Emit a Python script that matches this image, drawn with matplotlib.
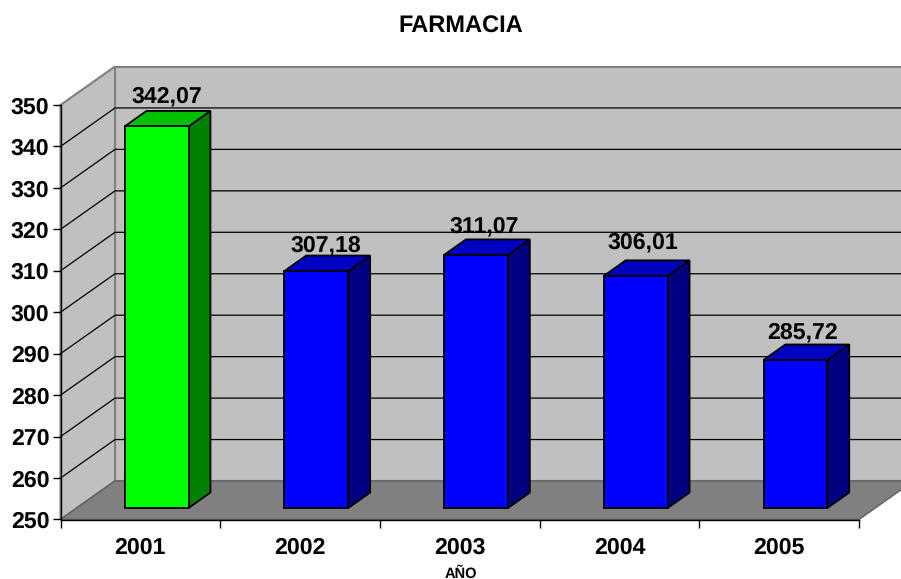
import numpy as np
from matplotlib import pyplot as plt
from matplotlib.patches import Polygon

plt.rcParams['font.family'] = ['Liberation Sans', 'DejaVu Sans']
plt.rcParams['font.weight'] = 'bold'
plt.rcParams['text.hinting'] = 'no_hinting'

#Data
years = ["2001", "2002", "2003", "2004", "2005"]
values = [342.07, 307.18, 311.07, 306.01, 285.72]
labels = ["342,07", "307,18", "311,07", "306,01", "285,72"]
yticks = [250, 260, 270, 280, 290, 300, 310, 320, 330, 340, 350]

#Colors of each bar: front, top, side
green = ['#00FF00', '#00C000', '#008000']
blue = ['#0000FF', '#0000C0', '#000080']
bar_colors = [green, blue, blue, blue, blue]

#Label nudges in pixels, they were dragged by hand in the original
label_dx = [10.5, 9.5, 8, 7.5, 7]
label_dy = [29.5, 25, 28, 33, 27.5]

W, H = 901, 579
x0, x1, y0, y1 = 60.5, 859, 519.5, 105

fig = plt.figure(figsize=(W/100, H/100), dpi=100)
ax = fig.add_axes([x0/W, (H-y0)/H, (x1-x0)/W, (y0-y1)/H])
ax.patch.set_alpha(0)
ax.set_xlim(0, 5)
ax.set_ylim(250, 350)

#Depth of the fake 3D box, in data units
depth_x = 54.5/(x1-x0)*5
depth_y = 38.5/(y0-y1)*100

def pt(x, y, d=0.0):
    #d = 0 front of the box, d = 1 back wall
    return (x + d*depth_x, y + d*depth_y)

def poly(points, face, edge='none', lw=1.0, z=1):
    ax.add_patch(Polygon(points, closed=True, facecolor=face, edgecolor=edge,
                         linewidth=lw, clip_on=False, zorder=z, joinstyle='miter'))

wall = '#C0C0C0'
floor = '#808080'
#Walls and floor
poly([pt(0, 250, 1), pt(5, 250, 1), pt(5, 350, 1), pt(0, 350, 1)], wall, floor, 1.5, 1)
poly([pt(0, 250), pt(0, 250, 1), pt(0, 350, 1), pt(0, 350)], wall, floor, 1.5, 1)
poly([pt(0, 250), pt(5, 250), pt(5, 250, 1), pt(0, 250, 1)], floor, '#606060', 1.0, 1.5)

#Gridlines
for t in yticks[1:-1]:
    a, b, c = pt(0, t), pt(0, t, 1), pt(5, t, 1)
    ax.plot([a[0], b[0], c[0]], [a[1], b[1], c[1]], color='black', lw=0.9, clip_on=False,
            zorder=2, solid_joinstyle='miter')

#Bars
for i in range(len(values)):
    v = values[i]
    front, top, side = bar_colors[i]
    l, r = i + 0.3, i + 0.7
    d0, d1 = 0.3, 0.7
    poly([pt(r, 250, d0), pt(r, 250, d1), pt(r, v, d1), pt(r, v, d0)], side, 'black', 1.3, 3)
    poly([pt(l, v, d0), pt(r, v, d0), pt(r, v, d1), pt(l, v, d1)], top, 'black', 1.3, 3)
    poly([pt(l, 250, d0), pt(r, 250, d0), pt(r, v, d0), pt(l, v, d0)], front, 'black', 1.3, 4)
    cx, cy = pt(i + 0.5, v, d0)
    ax.annotate(labels[i], (cx, cy), xytext=(label_dx[i]*0.72, label_dy[i]*0.72),
                textcoords='offset points', ha='center', va='center',
                fontsize=16.7, fontweight='bold', color='black', zorder=6, annotation_clip=False)

#Axes
for s in ['top', 'right']:
    ax.spines[s].set_visible(False)
for s in ['left', 'bottom']:
    ax.spines[s].set_linewidth(1.0)
    ax.spines[s].set_zorder(5)

ax.set_yticks(yticks)
ax.set_yticklabels([str(t) for t in yticks], fontsize=16.7, fontweight='bold')
ax.tick_params(axis='y', length=5.5, width=1.0, pad=2.5)
ax.set_xticks(np.arange(6))
ax.set_xticklabels([])
ax.tick_params(axis='x', which='major', length=5.5, width=1.0)
ax.set_xticks(np.arange(5) + 0.5, minor=True)
ax.set_xticklabels(years, minor=True, fontsize=16.7, fontweight='bold')
ax.tick_params(axis='x', which='minor', length=0, pad=12.4)

fig.text(461/W, 1 - 27/H, "FARMACIA", ha='center', va='center', fontsize=17, fontweight='bold')
fig.text(461/W, 1 - 573.5/H, "AÑO", ha='center', va='center', fontsize=10.5, fontweight='bold')

fig.savefig('out.png', dpi=100)
